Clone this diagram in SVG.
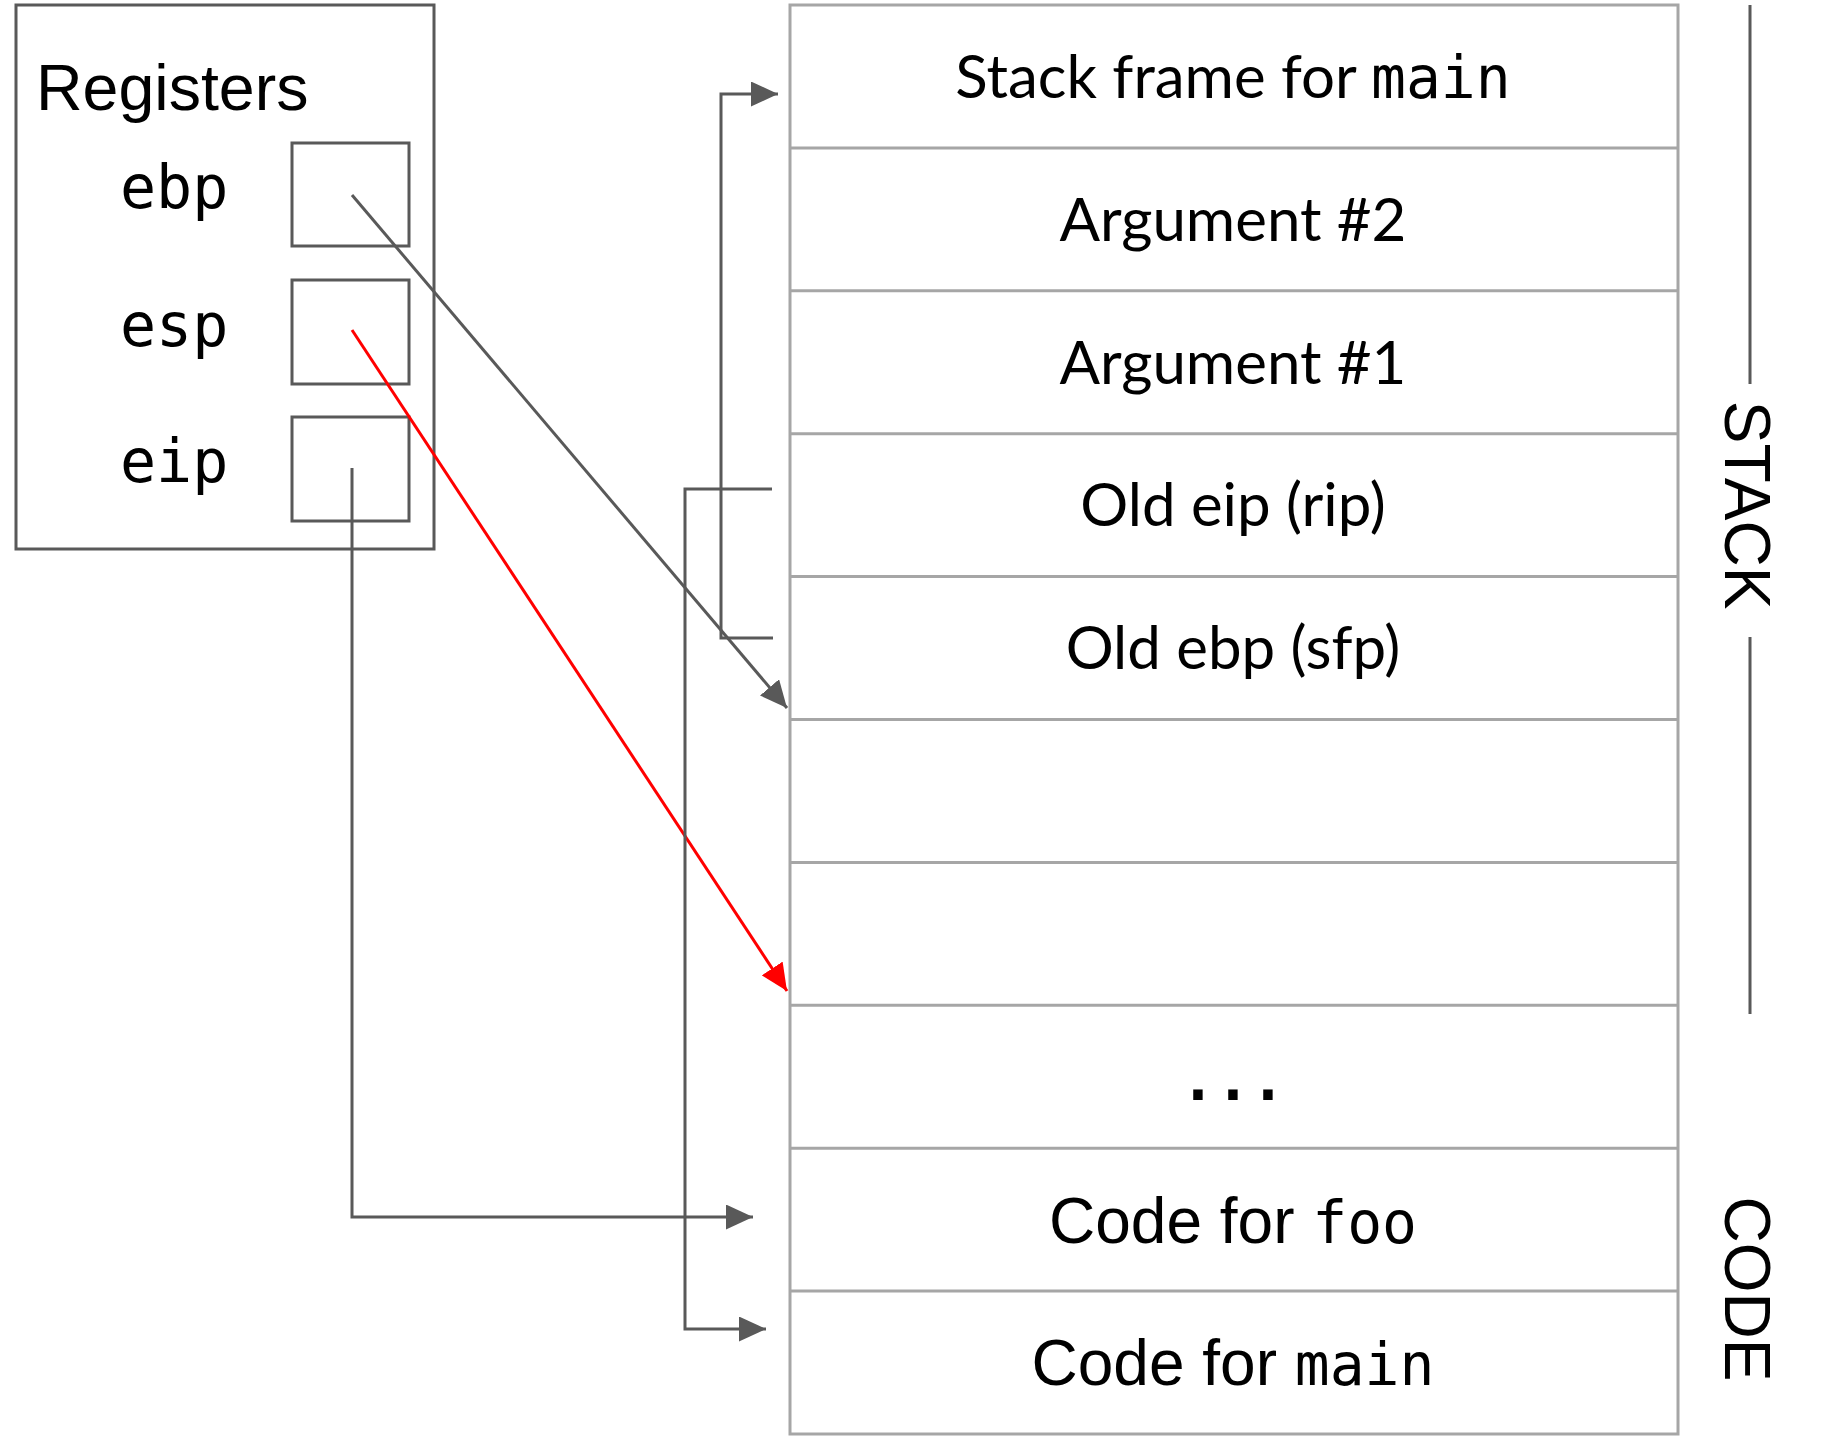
<svg xmlns="http://www.w3.org/2000/svg" width="1824" height="1443" viewBox="0 0 1824 1443">
<style>
.bg{fill:#ffffff}
.regbox{fill:none;stroke:#595959;stroke-width:3}
.cell{fill:#ffffff;stroke:#a6a6a6;stroke-width:3}
.sep{stroke:#a6a6a6;stroke-width:3}
.side{stroke:#595959;stroke-width:3}
.conn{fill:none;stroke:#595959;stroke-width:3}
.red{fill:none;stroke:#ff0000;stroke-width:3}
.arial{font-family:"Liberation Sans",Arial,sans-serif;fill:#000}
.cal{font-family:Lato,"Noto Sans",sans-serif;font-size:60px;fill:#000}
.mono{font-family:"DejaVu Sans Mono","Liberation Mono",monospace;font-size:58px;fill:#000}
.reg{font-family:"DejaVu Sans Mono","Liberation Mono",monospace;font-size:60px;fill:#000}
</style>
<defs>
<marker id="ag" markerUnits="userSpaceOnUse" markerWidth="27" markerHeight="25" refX="27" refY="12.5" orient="auto" viewBox="0 0 27 25"><path d="M0,0 L27,12.5 L0,25 z" fill="#595959"/></marker>
<marker id="ar" markerUnits="userSpaceOnUse" markerWidth="27" markerHeight="25" refX="27" refY="12.5" orient="auto" viewBox="0 0 27 25"><path d="M0,0 L27,12.5 L0,25 z" fill="#ff0000"/></marker>
</defs>
<rect class="bg" x="0" y="0" width="1824" height="1443"/>

<g id="registers">
<rect class="regbox" x="16" y="5" width="418" height="544"/>
<text class="arial" x="36" y="110" font-size="64.5">Registers</text>
</g>
<g id="reg-ebp">
<text class="reg" x="120" y="208">ebp</text>
<rect class="regbox" x="292" y="143" width="117" height="103"/>
</g>
<g id="reg-esp">
<text class="reg" x="120" y="346">esp</text>
<rect class="regbox" x="292" y="280" width="117" height="104"/>
</g>
<g id="reg-eip">
<text class="reg" x="120" y="482">eip</text>
<rect class="regbox" x="292" y="417" width="117" height="104"/>
</g>

<g id="stack">
<rect class="cell" x="790" y="5" width="888" height="1429"/>
<line class="sep" x1="790" y1="147.9" x2="1678" y2="147.9"/>
<line class="sep" x1="790" y1="290.8" x2="1678" y2="290.8"/>
<line class="sep" x1="790" y1="433.7" x2="1678" y2="433.7"/>
<line class="sep" x1="790" y1="576.6" x2="1678" y2="576.6"/>
<line class="sep" x1="790" y1="719.5" x2="1678" y2="719.5"/>
<line class="sep" x1="790" y1="862.4" x2="1678" y2="862.4"/>
<line class="sep" x1="790" y1="1005.3" x2="1678" y2="1005.3"/>
<line class="sep" x1="790" y1="1148.2" x2="1678" y2="1148.2"/>
<line class="sep" x1="790" y1="1291.1" x2="1678" y2="1291.1"/>
</g>
<g id="row-main-frame"><text x="1233" y="98" text-anchor="middle"><tspan class="cal">Stack frame for </tspan><tspan class="mono">main</tspan></text></g>
<g id="row-arg2"><text class="cal" x="1233" y="241" text-anchor="middle" font-size="59">Argument #2</text></g>
<g id="row-arg1"><text class="cal" x="1233" y="384" text-anchor="middle" font-size="59">Argument #1</text></g>
<g id="row-old-eip"><text class="cal" x="1233" y="526" text-anchor="middle">Old eip (rip)</text></g>
<g id="row-old-ebp"><text class="cal" x="1233" y="669" text-anchor="middle">Old ebp (sfp)</text></g>
<g id="row-dots"><text class="mono" x="1233" y="1100" text-anchor="middle" font-weight="bold">...</text></g>
<g id="row-code-foo"><text x="1233" y="1243" text-anchor="middle"><tspan class="arial" font-size="64">Code for </tspan><tspan class="mono">foo</tspan></text></g>
<g id="row-code-main"><text x="1233" y="1385" text-anchor="middle"><tspan class="arial" font-size="64">Code for </tspan><tspan class="mono">main</tspan></text></g>

<g id="label-stack">
<line class="side" x1="1750" y1="5" x2="1750" y2="384"/>
<line class="side" x1="1750" y1="637" x2="1750" y2="1014"/>
<text class="arial" font-size="64" text-anchor="middle" transform="translate(1725,505) rotate(90)">STACK</text>
</g>
<g id="label-code">
<text class="arial" font-size="64" text-anchor="middle" transform="translate(1725,1289) rotate(90)">CODE</text>
</g>

<g id="connectors">
<path class="conn" d="M352,195 L787,708" marker-end="url(#ag)"/>
<path class="red" d="M352,330 L787,991" marker-end="url(#ar)"/>
<path class="conn" d="M352,468 V1217 H753" marker-end="url(#ag)"/>
<path class="conn" d="M772,489 H685 V1329 H766" marker-end="url(#ag)"/>
<path class="conn" d="M773,638 H721 V94 H778" marker-end="url(#ag)"/>
</g>
</svg>
